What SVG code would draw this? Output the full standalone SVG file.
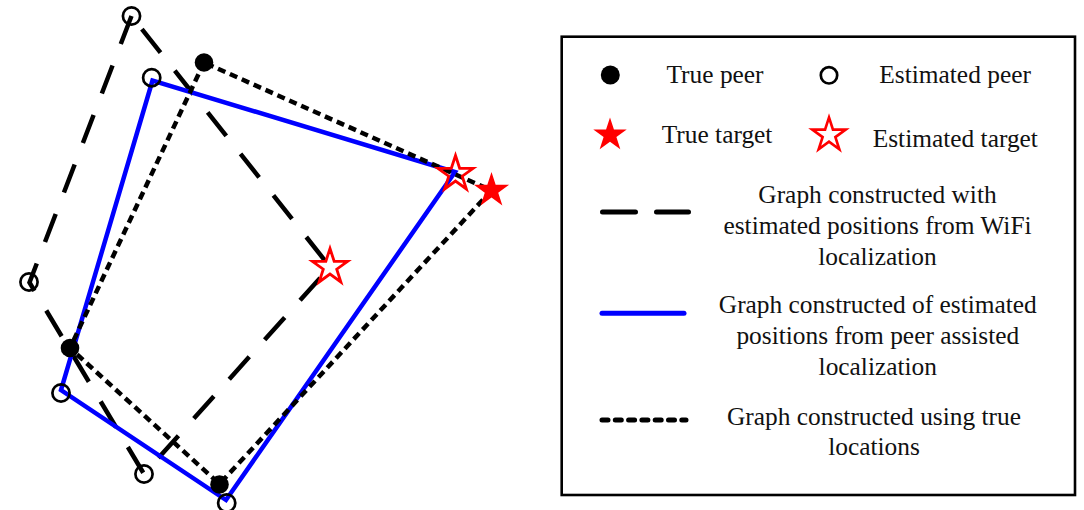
<svg xmlns="http://www.w3.org/2000/svg" width="1084" height="510" viewBox="0 0 1084 510">
  <style>
    .txt { font-family: "Liberation Serif", "Times New Roman", serif; font-size: 25.4px; fill: #111; }
    .mid { text-anchor: middle; }
    .wifi { fill: none; stroke: #000; stroke-width: 4.5; stroke-dasharray: 30 23; }
    .peer { fill: none; stroke: #0000ff; stroke-width: 4.5; stroke-linejoin: miter; }
    .true { fill: none; stroke: #000; stroke-width: 4.5; stroke-dasharray: 8 5; }
    .est { fill: none; stroke: #000; stroke-width: 2.7; }
    .real { fill: #000; stroke: none; }
    .tstar { fill: #ff0000; stroke: none; }
    .estar { fill: none; stroke: #ff0000; stroke-width: 2.8; stroke-linejoin: miter; }
  </style>
  <defs>
    <path id="star" d="M0,-18.5 L4.16,-5.72 L17.59,-5.72 L6.72,2.18 L10.87,14.97 L0,7.07 L-10.87,14.97 L-6.72,2.18 L-17.59,-5.72 L-4.16,-5.72 Z"/>
  </defs>
  <rect x="0" y="0" width="1084" height="510" fill="#fff"/>

  <g id="connectors">
    <path class="wifi" d="M131.5,16 L29.5,282.5 L144,474 L330,267 Z"/>
    <path class="peer" d="M152.5,80.5 L61,390 L226,500 L455,172 Z"/>
    <path class="true" d="M204,62.5 L70,348 L219.5,484 L491.5,190.5 Z"/>
  </g>

  <g id="wifi-peers">
    <circle id="wifi-peer-1" class="est" cx="131.5" cy="16" r="8.6"/>
    <circle id="wifi-peer-2" class="est" cx="29" cy="282" r="8.6"/>
    <circle id="wifi-peer-3" class="est" cx="144" cy="474" r="8.6"/>
  </g>
  <g id="assisted-peers">
    <circle id="assisted-peer-1" class="est" cx="151.7" cy="77.7" r="8.6"/>
    <circle id="assisted-peer-2" class="est" cx="61" cy="393" r="8.6"/>
    <circle id="assisted-peer-3" class="est" cx="226.7" cy="503" r="8.6"/>
  </g>
  <g id="true-peers">
    <circle id="true-peer-1" class="real" cx="204" cy="62.5" r="9.3"/>
    <circle id="true-peer-2" class="real" cx="70" cy="348" r="9.3"/>
    <circle id="true-peer-3" class="real" cx="219.5" cy="484.5" r="9.3"/>
  </g>
  <g id="target-wifi">
    <use href="#star" class="estar" transform="translate(330,267)"/>
  </g>
  <g id="target-assisted">
    <use href="#star" class="estar" transform="translate(455.5,174)"/>
  </g>
  <g id="target-true">
    <use href="#star" class="tstar" transform="translate(491.5,190.5)"/>
  </g>

  <g id="legend">
    <rect x="561.7" y="36.7" width="513.3" height="458.3" fill="#fff" stroke="#000" stroke-width="2.6"/>
    <circle class="real" cx="610.3" cy="75" r="9.5"/>
    <text class="txt" x="666.5" y="83.3">True peer</text>
    <circle class="est" cx="829" cy="75.3" r="8.2"/>
    <text class="txt" x="879.3" y="83.3">Estimated peer</text>
    <use href="#star" class="tstar" transform="translate(610,135) scale(0.95)"/>
    <text class="txt" x="661.7" y="143">True target</text>
    <use href="#star" class="estar" transform="translate(829,135) scale(0.95)"/>
    <text class="txt" x="872.7" y="147.3">Estimated target</text>

    <path d="M600,212 H686" fill="none" stroke="#000" stroke-width="5" stroke-linecap="round" stroke-dasharray="33 21" transform="translate(2.5,0)"/>
    <text class="txt mid" x="877.5" y="203.3">Graph constructed with</text>
    <text class="txt mid" x="877.5" y="234">estimated positions from WiFi</text>
    <text class="txt mid" x="877.5" y="265">localization</text>

    <path d="M602,313.3 H684" fill="none" stroke="#0000ff" stroke-width="5" stroke-linecap="round"/>
    <text class="txt mid" x="877.8" y="313.3">Graph constructed of estimated</text>
    <text class="txt mid" x="877.8" y="344">positions from peer assisted</text>
    <text class="txt mid" x="877.8" y="375">localization</text>

    <path d="M602,420 H686" fill="none" stroke="#000" stroke-width="5" stroke-linecap="round" stroke-dasharray="6 7.3"/>
    <text class="txt mid" x="874" y="425">Graph constructed using true</text>
    <text class="txt mid" x="874" y="455">locations</text>
  </g>
</svg>
